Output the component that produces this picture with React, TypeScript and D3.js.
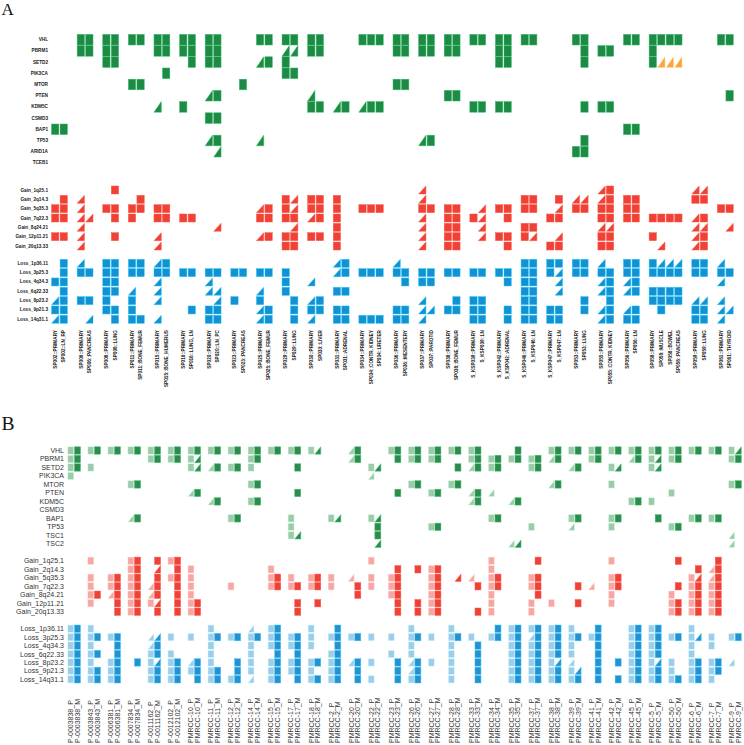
import React from "react";
import * as d3 from "d3";

const W = 744;
const H = 745;

// ---------------- Panel A data ----------------
const patientsA = ["SP002","SP006","SP008","SP011","SP015","SP016","SP020","SP023","SP025","SP029","SP030","SP031","SP034","SP036","SP037","SP038","S_KSP039","S_KSP042","S_KSP046","S_KSP047","SP053","SP055","SP056","SP058","SP059","SP061"];
const sitesA = [
  ["PRIMARY","LN_RP"],["PRIMARY","PANCREAS"],["PRIMARY","LUNG"],["PRIMARY","BONE_FEMUR"],["PRIMARY","BONE_HUMERUS"],
  ["PRIMARY","LUNG, LN"],["PRIMARY","LN_PC"],["PRIMARY","PANCREAS"],["PRIMARY","BONE_FEMUR"],["PRIMARY","LUNG"],
  ["PRIMARY","LIVER"],["PRIMARY","ADRENAL"],["PRIMARY","CONTR. KIDNEY","URETER"],["PRIMARY","MESENTERY"],["PRIMARY","PAROTID"],
  ["PRIMARY","BONE_FEMUR"],["PRIMARY","LN"],["PRIMARY","ADRENAL"],["PRIMARY","LN"],["PRIMARY","LN"],
  ["PRIMARY","LUNG"],["PRIMARY","CONTR. KIDNEY"],["PRIMARY","LN"],["PRIMARY","MUSCLE","BOWEL","PANCREAS"],["PRIMARY","LUNG"],["PRIMARY","THYROID"]
];
const mutRowsA = ["VHL","PBRM1","SETD2","PIK3CA","MTOR","PTEN","KDM5C","CSMD3","BAP1","TP53","ARID1A","TCEB1"];
// "group:cells"  S = clonal (square), T = subclonal (triangle), O = other (orange triangle), . = none
const mutCellsA = [
  "1:SS 2:SS 3:SS 4:SS 5:SS 6:SS 8:SS 9:SS 10:SS 12:SSS 13:SS 14:SS 15:SS 16:SS 17:SS 18:SS 20:SS 22:SS 23:SSSS 25:SS",
  "1:SS 2:SS 4:SS 5:SS 6:SS 9:TT 10:SS 13:SS 14:SS 15:SS 17:SS 20:.S 21:SS 23:S...",
  "2:SS 5:.S 6:SS 8:TS 9:S. 17:SS 20:.S 23:SOOO",
  "4:.S 9:SS",
  "3:SS 7:.S 13:SS",
  "6:TS 10:T. 15:SS 25:.S",
  "4:T. 5:S. 10:SS 11:TS 12:TSS 16:SS 17:SS 20:.S 21:SS",
  "6:SS",
  "0:SS 22:SS",
  "6:TS 8:T. 14:TS 20:.S",
  "6:.T 20:SS",
  ""
];
const gainRows = ["Gain_1q25.1","Gain_2q14.3","Gain_5q35.3","Gain_7q22.3","Gain_8q24.21","Gain_12p11.21","Gain_20q13.33"];
const gainCellsA = [
  "2:.S 14:T. 21:TS 24:TT",
  "0:.S 1:T. 3:.S 9:ST 10:SS 11:S. 14:T. 18:SS 19:.S 20:TT 21:TS 22:SS 24:SS",
  "0:SS 1:T. 2:SS 3:SS 4:SS 8:TS 9:ST 10:SS 11:S. 12:SSS 14:SS 15:SS 16:.T 17:SS 18:SS 19:.T 20:SS 21:SS 22:SS 25:SS",
  "0:SS 1:TT 2:.S 3:S. 4:SS 5:SS 8:SS 9:SS 10:TS 11:S. 14:T. 15:SS 16:ST 17:.S 19:SS 21:SS 22:SS 23:SSSS 24:TS",
  "1:T. 6:.T 9:.T 11:S. 14:T. 15:SS 16:.T 18:SS 21:TT 24:TT 25:.T",
  "0:SS 1:T. 2:.S 4:T. 8:TS 9:SS 10:SS 11:S. 14:T. 15:SS 16:.T 17:SS 18:ST 19:.T 21:SS 23:S... 24:TS",
  "1:T. 4:T. 9:SS 11:S. 14:T. 15:SS 17:.S 19:SS 21:SS 23:.T.. 24:TS"
];
const lossRows = ["Loss_1p36.11","Loss_3p25.3","Loss_4q34.3","Loss_6q22.33","Loss_8p23.2","Loss_9p21.3","Loss_14q31.1"];
const lossCellsA = [
  "0:.S 1:T. 2:SS 3:SS 4:TS 11:TS 13:T. 18:SS 19:SS 20:SS 21:T. 22:SS 23:STTT 24:SS 25:T.",
  "0:.S 1:SS 2:SS 3:SS 4:SS 5:SS 6:SS 7:SS 8:SS 9:S. 11:TS 12:SSS 13:SS 14:SS 15:SS 16:SS 17:SS 18:SS 19:ST 20:SS 21:SS 22:SS 23:SSSS 24:SS 25:SS",
  "0:SS 2:SS 4:T. 6:T. 9:S. 10:T. 13:.S 14:SS 17:.S 18:SS 19:.T 21:TS 22:TS 25:T.",
  "0:.S 2:SS 3:T. 4:T. 6:TT 8:T. 9:S. 11:SS 18:SS 19:.T 21:TS 22:TS 23:SSSS",
  "0:TS 1:SS 2:S. 3:S. 4:T. 6:.T 7:S. 8:S. 9:.S 10:TS 14:T. 15:.S 16:SS 18:SS 20:.S 21:.S 23:SSSS 24:TT 25:T.",
  "0:SS 2:SS 3:S. 5:.S 6:SS 8:TS 9:.S 10:SS 11:SS 13:SS 14:TT 15:SS 16:SS 17:.S 18:SS 19:SS 20:.S 21:TS 22:TS 23:.S.. 24:SS 25:TT",
  "0:TS 1:.T 2:.S 3:SS 4:T. 6:SS 8:TS 9:.S 10:T. 11:SS 12:SSS 13:SS 14:T. 16:SS 17:.S 18:SS 19:SS 21:TS 22:SS 24:SS 25:T."
];

// ---------------- Panel B data ----------------
const patientsB = ["P-0003838","P-0003843","P-0006381","P-0007834","P-0011162","P-0012102","PMRCC-10","PMRCC-11","PMRCC-12","PMRCC-14","PMRCC-15","PMRCC-17","PMRCC-18","PMRCC-2","PMRCC-20","PMRCC-22","PMRCC-23","PMRCC-26","PMRCC-27","PMRCC-28","PMRCC-33","PMRCC-34","PMRCC-35","PMRCC-37","PMRCC-38","PMRCC-39","PMRCC-41","PMRCC-42","PMRCC-45","PMRCC-5","PMRCC-50","PMRCC-6","PMRCC-7","PMRCC-9"];
const sitesB = ["P","M"];
const mutRowsB = ["VHL","PBRM1","SETD2","PIK3CA","MTOR","PTEN","KDM5C","CSMD3","BAP1","TP53","TSC1","TSC2"];
const mutCellsB = [
  "0:SS 1:SS 2:SS 3:SS 4:SS 5:SS 6:SS 7:SS 8:SS 9:SS 10:SS 11:SS 12:ST 14:TS 16:SS 17:SS 18:SS 19:SS 20:SS 22:.S 24:SS 25:SS 26:SS 27:SS 28:SS 29:SS 30:SS 31:SS 32:SS 33:ST",
  "0:SS 4:SS 5:SS 6:ST 9:SS 14:TS 16:.S 17:SS 18:SS 20:SS 21:SS 22:SS 23:SS 24:TS 26:SS 28:TS 29:ST 30:SS 33:SS",
  "0:SS 1:S. 6:ST 7:TS 8:SS 9:S. 11:.S 15:ST 19:.S 20:TS 21:SS 23:SS 25:TS 27:ST 29:ST",
  "0:S. 15:T.",
  "3:SS 9:SS 17:SS 19:SS 24:TS 27:S. 33:SS",
  "6:TS 11:.S 16:.S 18:SS 20:TS 21:T. 30:S.",
  "7:TS 9:SS 20:TS 22:TS 28:SS 29:S.",
  "",
  "3:TS 8:SS 11:S. 13:ST 15:ST 21:SS 25:SS 27:SS 29:.S 31:SS 32:SS",
  "11:S. 15:.S 18:SS 23:S. 25:T. 27:S. 30:SS",
  "11:ST 15:.S 33:T.",
  "15:.T 22:TT 33:T."
];
const gainCellsB = [
  "1:S. 3:SS 4:.S 5:SS 15:S. 21:S. 23:.S 27:S. 30:.S 32:.S",
  "3:SS 4:.T 5:.S 6:S. 10:S. 16:.S 17:.S 18:SS 21:S. 31:.S 32:TS",
  "1:S. 2:SS 3:SS 4:.S 5:SS 6:S. 10:SS 11:S. 12:SS 13:S. 14:T. 15:S. 16:SS 18:SS 19:.T 20:T. 21:SS 23:SS 27:SS 31:ST 32:TS",
  "1:S. 2:SS 3:SS 4:TS 5:.S 6:S. 8:S. 10:SS 11:SS 12:SS 13:S. 14:.S 15:S. 16:SS 18:SS 20:.S 21:SS 23:SS 25:.S 26:T. 27:SS 30:.S 31:SS 32:SS",
  "1:SS 2:TS 3:SS 4:TS 5:.S 6:S. 14:.S 16:SS 18:SS 21:S. 23:.S 27:S. 30:S. 31:SS 32:SS",
  "1:S. 2:.S 3:SS 4:ST 5:.S 6:SS 11:.S 12:.S 16:.S 17:.S 18:SS 21:S. 23:S. 24:S. 25:.S 27:S. 30:SS 31:SS 32:SS",
  "2:.S 3:SS 4:.S 5:.S 6:SS 11:.S 16:.S 17:.S 18:SS 20:.S 21:S. 23:S. 30:SS 31:SS 32:SS"
];
const lossCellsB = [
  "0:SS 1:S. 7:S. 9:T. 10:SS 12:S. 13:.S 17:S. 19:S. 21:.S 22:SS 23:SS 24:SS 25:S. 26:.S 28:SS 29:SS 31:S.",
  "0:SS 1:SS 2:SS 4:TT 5:S. 6:S. 7:SS 8:SS 9:SS 10:SS 11:SS 12:S. 13:SS 14:SS 15:S. 16:S. 17:SS 18:S. 19:SS 20:S. 21:SS 22:SS 23:TS 24:SS 25:SS 26:SS 28:SS 29:SS 30:SS 31:ST 32:S. 33:SS",
  "0:SS 1:S. 2:.S 4:TS 7:S. 9:S. 10:SS 11:SS 12:S. 13:.S 17:S. 19:S. 20:.S 22:SS 23:SS 24:SS 25:S. 26:.S 28:SS 29:SS 31:S. 32:S.",
  "0:SS 1:SS 2:.S 4:SS 5:S. 7:S. 9:S. 10:.S 11:.S 13:SS 16:S. 17:S. 19:S. 20:.S 22:SS 23:SS 24:SS 25:S. 26:.S 28:SS 29:SS 31:S.",
  "0:SS 1:S. 2:SS 3:.S 4:ST 5:SS 6:TS 7:S. 8:.S 9:S. 10:SS 11:SS 12:SS 13:SS 14:TS 15:S. 16:.S 17:TS 18:S. 19:S. 20:.S 22:SS 23:SS 24:ST 25:T. 26:.S 27:.S 28:SS 29:ST 30:S. 31:SS 32:SS 33:T.",
  "0:SS 1:SS 2:SS 4:SS 5:SS 6:SS 7:SS 8:.S 9:S. 10:SS 11:SS 12:S. 13:SS 14:.S 16:.S 17:TS 19:S. 20:.S 22:SS 23:SS 24:SS 25:ST 26:.S 28:SS 29:SS 30:S. 31:SS 32:SS",
  "0:SS 1:SS 2:SS 4:SS 5:SS 6:.S 7:SS 8:SS 9:T. 10:SS 11:.S 12:SS 13:SS 14:.S 15:S. 16:.S 17:SS 19:S. 20:.S 22:SS 23:SS 24:SS 25:SS 26:.S 27:.S 28:SS 29:SS 30:SS 31:SS 32:S."
];

// ---------------- colours ----------------
const colA = { mut: "#1e8a46", gain: "#ef4136", loss: "#1590d0", other: "#f7a24f" };
const colB = {
  mut: { P: "#9dcaa8", M: "#2e8b50" },
  gain: { P: "#f6a6a3", M: "#ee4137" },
  loss: { P: "#9dcdea", M: "#2691cf" },
};

type CellRec = { key: string; cx: number; cy: number; kind: string; fill: string };

function parseRow(s: string): [number, string][] {
  if (!s.trim()) return [];
  return s.trim().split(/\s+/).map((t) => {
    const [g, v] = t.split(":");
    return [parseInt(g, 10), v] as [number, string];
  });
}

function buildSlots(patients: string[], sites: (gi: number) => string[], sep: string) {
  const slots: string[] = [];
  patients.forEach((p, gi) => {
    sites(gi).forEach((s) => slots.push(`${p}${sep}${s}`));
    if (gi < patients.length - 1) slots.push(`__gap${gi}`);
  });
  return slots;
}

function Shape({ c, w, h }: { c: CellRec; w: number; h: number }) {
  const x0 = c.cx - w / 2, x1 = c.cx + w / 2, y0 = c.cy - h / 2, y1 = c.cy + h / 2;
  const stroke = d3.color(c.fill)!.brighter(0.9).formatHex();
  if (c.kind === "S") {
    return <rect x={x0} y={y0} width={w} height={h} fill={c.fill} stroke={stroke} strokeWidth={0.5} />;
  }
  const p = d3.path();
  p.moveTo(x0, y1);
  p.lineTo(x1, y0);
  p.lineTo(x1, y1);
  p.closePath();
  return <path d={p.toString()} fill={c.fill} stroke={stroke} strokeWidth={0.5} />;
}

export default function App() {
  // ----- Panel A scales -----
  const slotsA = buildSlots(patientsA, (gi) => sitesA[gi], "::");
  const xA = d3.scalePoint<string>().domain(slotsA).range([55.2, 729.6]);
  const yAm = d3.scalePoint<string>().domain(mutRowsA).range([39.7, 162.9]);
  const yAg = d3.scalePoint<string>().domain(gainRows).range([190, 246]);
  const yAl = d3.scalePoint<string>().domain(lossRows).range([263.3, 319.3]);

  const cellsA: CellRec[] = [];
  const addA = (rows: string[], data: string[], y: d3.ScalePoint<string>, base: string) => {
    rows.forEach((r, ri) => {
      parseRow(data[ri]).forEach(([gi, v]) => {
        v.split("").forEach((ch, si) => {
          if (ch === ".") return;
          const id = `${patientsA[gi]}::${sitesA[gi][si]}`;
          cellsA.push({
            key: `${r}-${id}`,
            cx: xA(id)!,
            cy: y(r)!,
            kind: ch === "S" ? "S" : "T",
            fill: ch === "O" ? colA.other : base,
          });
        });
      });
    });
  };
  addA(mutRowsA, mutCellsA, yAm, colA.mut);
  addA(gainRows, gainCellsA, yAg, colA.gain);
  addA(lossRows, lossCellsA, yAl, colA.loss);

  // ----- Panel B scales -----
  const slotsB = buildSlots(patientsB, () => sitesB, "_");
  const xB = d3.scalePoint<string>().domain(slotsB).range([70.8, 738.3]);
  const yBm = d3.scalePoint<string>().domain(mutRowsB).range([450.5, 543.8]);
  const yBg = d3.scalePoint<string>().domain(gainRows).range([560.8, 611.7]);
  const yBl = d3.scalePoint<string>().domain(lossRows).range([628.7, 679.3]);

  const cellsB: CellRec[] = [];
  const addB = (rows: string[], data: string[], y: d3.ScalePoint<string>, pal: { P: string; M: string }) => {
    rows.forEach((r, ri) => {
      parseRow(data[ri]).forEach(([gi, v]) => {
        v.split("").forEach((ch, si) => {
          if (ch === ".") return;
          const s = sitesB[si] as "P" | "M";
          const id = `${patientsB[gi]}_${s}`;
          cellsB.push({ key: `${r}-${id}`, cx: xB(id)!, cy: y(r)!, kind: ch, fill: pal[s] });
        });
      });
    });
  };
  addB(mutRowsB, mutCellsB, yBm, colB.mut);
  addB(gainRows, gainCellsB, yBg, colB.gain);
  addB(lossRows, lossCellsB, yBl, colB.loss);

  const samplesA: string[] = [];
  patientsA.forEach((p, gi) => sitesA[gi].forEach((s) => samplesA.push(`${p}::${s}`)));
  const samplesB: string[] = [];
  patientsB.forEach((p) => sitesB.forEach((s) => samplesB.push(`${p}_${s}`)));

  const fontA = { fontFamily: "Liberation Sans, Arial, sans-serif", fontWeight: 700, fontSize: 4.7, fill: "#1a1a1a" } as const;
  const fontB = { fontFamily: "Liberation Sans, Arial, sans-serif", fontSize: 7, fill: "#333" } as const;

  return (
    <svg width={W} height={H} style={{ position: "absolute", left: 0, top: 0, background: "#fff" }}>
      <rect width={W} height={H} fill="#fff" />
      <text x={1.5} y={15.3} style={{ fontFamily: "Liberation Serif, Times New Roman, serif", fontSize: 17 }} fill="#111">A</text>
      <text x={1.5} y={430} style={{ fontFamily: "Liberation Serif, Times New Roman, serif", fontSize: 19.5 }} fill="#111">B</text>

      {/* Panel A */}
      <g>
        {[...mutRowsA.map((r) => [r, yAm(r)!]), ...gainRows.map((r) => [r, yAg(r)!]), ...lossRows.map((r) => [r, yAl(r)!])].map(([r, y]) => (
          <text key={`la-${r}`} x={48} y={y as number} textAnchor="end" dominantBaseline="central" style={fontA}>{r as string}</text>
        ))}
        {cellsA.map((c) => (
          <Shape key={c.key} c={c} w={7.3} h={c.cy < 170 ? 10.6 : 8} />
        ))}
        {samplesA.map((s) => (
          <text key={`xa-${s}`} transform={`translate(${xA(s)! + 1.7},330) rotate(-90)`} textAnchor="end" style={fontA}>{s}</text>
        ))}
      </g>

      {/* Panel B */}
      <g>
        {[...mutRowsB.map((r) => [r, yBm(r)!]), ...gainRows.map((r) => [r, yBg(r)!]), ...lossRows.map((r) => [r, yBl(r)!])].map(([r, y]) => (
          <text key={`lb-${r}`} x={64} y={y as number} textAnchor="end" dominantBaseline="central" style={fontB}>{r as string}</text>
        ))}
        {cellsB.map((c) => (
          <Shape key={c.key} c={c} w={6} h={7.4} />
        ))}
        {samplesB.map((s) => (
          <text key={`xb-${s}`} transform={`translate(${xB(s)! + 2.4},743) rotate(-90)`} textAnchor="start" style={fontB}>{s}</text>
        ))}
      </g>
    </svg>
  );
}
